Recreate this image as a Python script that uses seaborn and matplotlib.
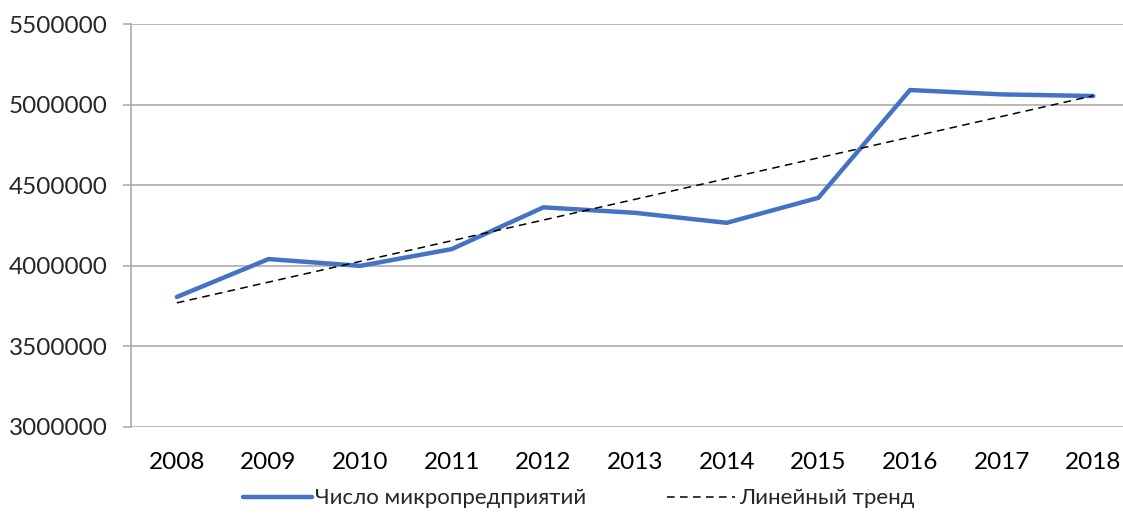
import numpy as np
import pandas as pd
import matplotlib
matplotlib.use("Agg")
import matplotlib.pyplot as plt
import seaborn as sns

# Число микропредприятий по годам
years = [2008, 2009, 2010, 2011, 2012, 2013, 2014, 2015, 2016, 2017, 2018]
micro = [3807000, 4042000, 4000000, 4104000, 4363000, 4329000,
         4267000, 4422000, 5091000, 5064000, 5054000]
y_ticks = [3000000, 3500000, 4000000, 4500000, 5000000, 5500000]

sns.set_theme(style="white")
plt.rcParams['font.family'] = ['Lato', 'DejaVu Sans']

df = pd.DataFrame({"pos": np.arange(len(years)), "value": micro})
# linear trend (least squares over the series)
k, b = np.polyfit(df["pos"], df["value"], 1)
df["trend"] = k * df["pos"] + b

fig = plt.figure(figsize=(11.23, 5.28), dpi=100)
# the plot area runs a little past the right edge, as in the source image
ax = fig.add_axes([0.1167, 0.1913, 0.8976, 0.763])

grid_c = "#a6a6a6"
fs = 17.5
for t in y_ticks:
    ax.axhline(t, color=grid_c, lw=1.1, zorder=0)

sns.lineplot(data=df, x="pos", y="value", ax=ax, color="#4472c4", lw=3.2,
             label="Число микропредприятий", zorder=3)
sns.lineplot(data=df, x="pos", y="trend", ax=ax, color="black", lw=1.1,
             label="Линейный тренд", zorder=4)
ax.lines[-1].set_dashes((5, 3.5))

ax.set_xlim(-0.5, len(years) - 0.5)
ax.set_ylim(3000000, 5500000)
ax.set_yticks(y_ticks)
ax.set_yticklabels([str(t) for t in y_ticks])
ax.set_xticks(np.arange(len(years)))
ax.set_xticklabels([str(y) for y in years])
ax.set_xticks(np.arange(-0.5, len(years)), minor=True)
ax.tick_params(axis="x", which="major", length=0, pad=18, labelsize=fs, colors="#000000")
ax.tick_params(axis="x", which="minor", length=6, width=1.1, color=grid_c, direction="out")
ax.tick_params(axis="y", length=6, width=1.1, color=grid_c, direction="out",
               labelsize=fs, pad=11, left=True)
ax.set_xlabel("")
ax.set_ylabel("")

for s in ["top", "right", "bottom"]:
    ax.spines[s].set_visible(False)
ax.spines["left"].set_color(grid_c)
ax.spines["left"].set_linewidth(1.1)

ax.legend(loc="center", bbox_to_anchor=(0.444, -0.177), ncol=2, frameon=False,
          fontsize=16, handlelength=3.1, columnspacing=3.6, handletextpad=0.15)

fig.savefig("out.png", dpi=100)
